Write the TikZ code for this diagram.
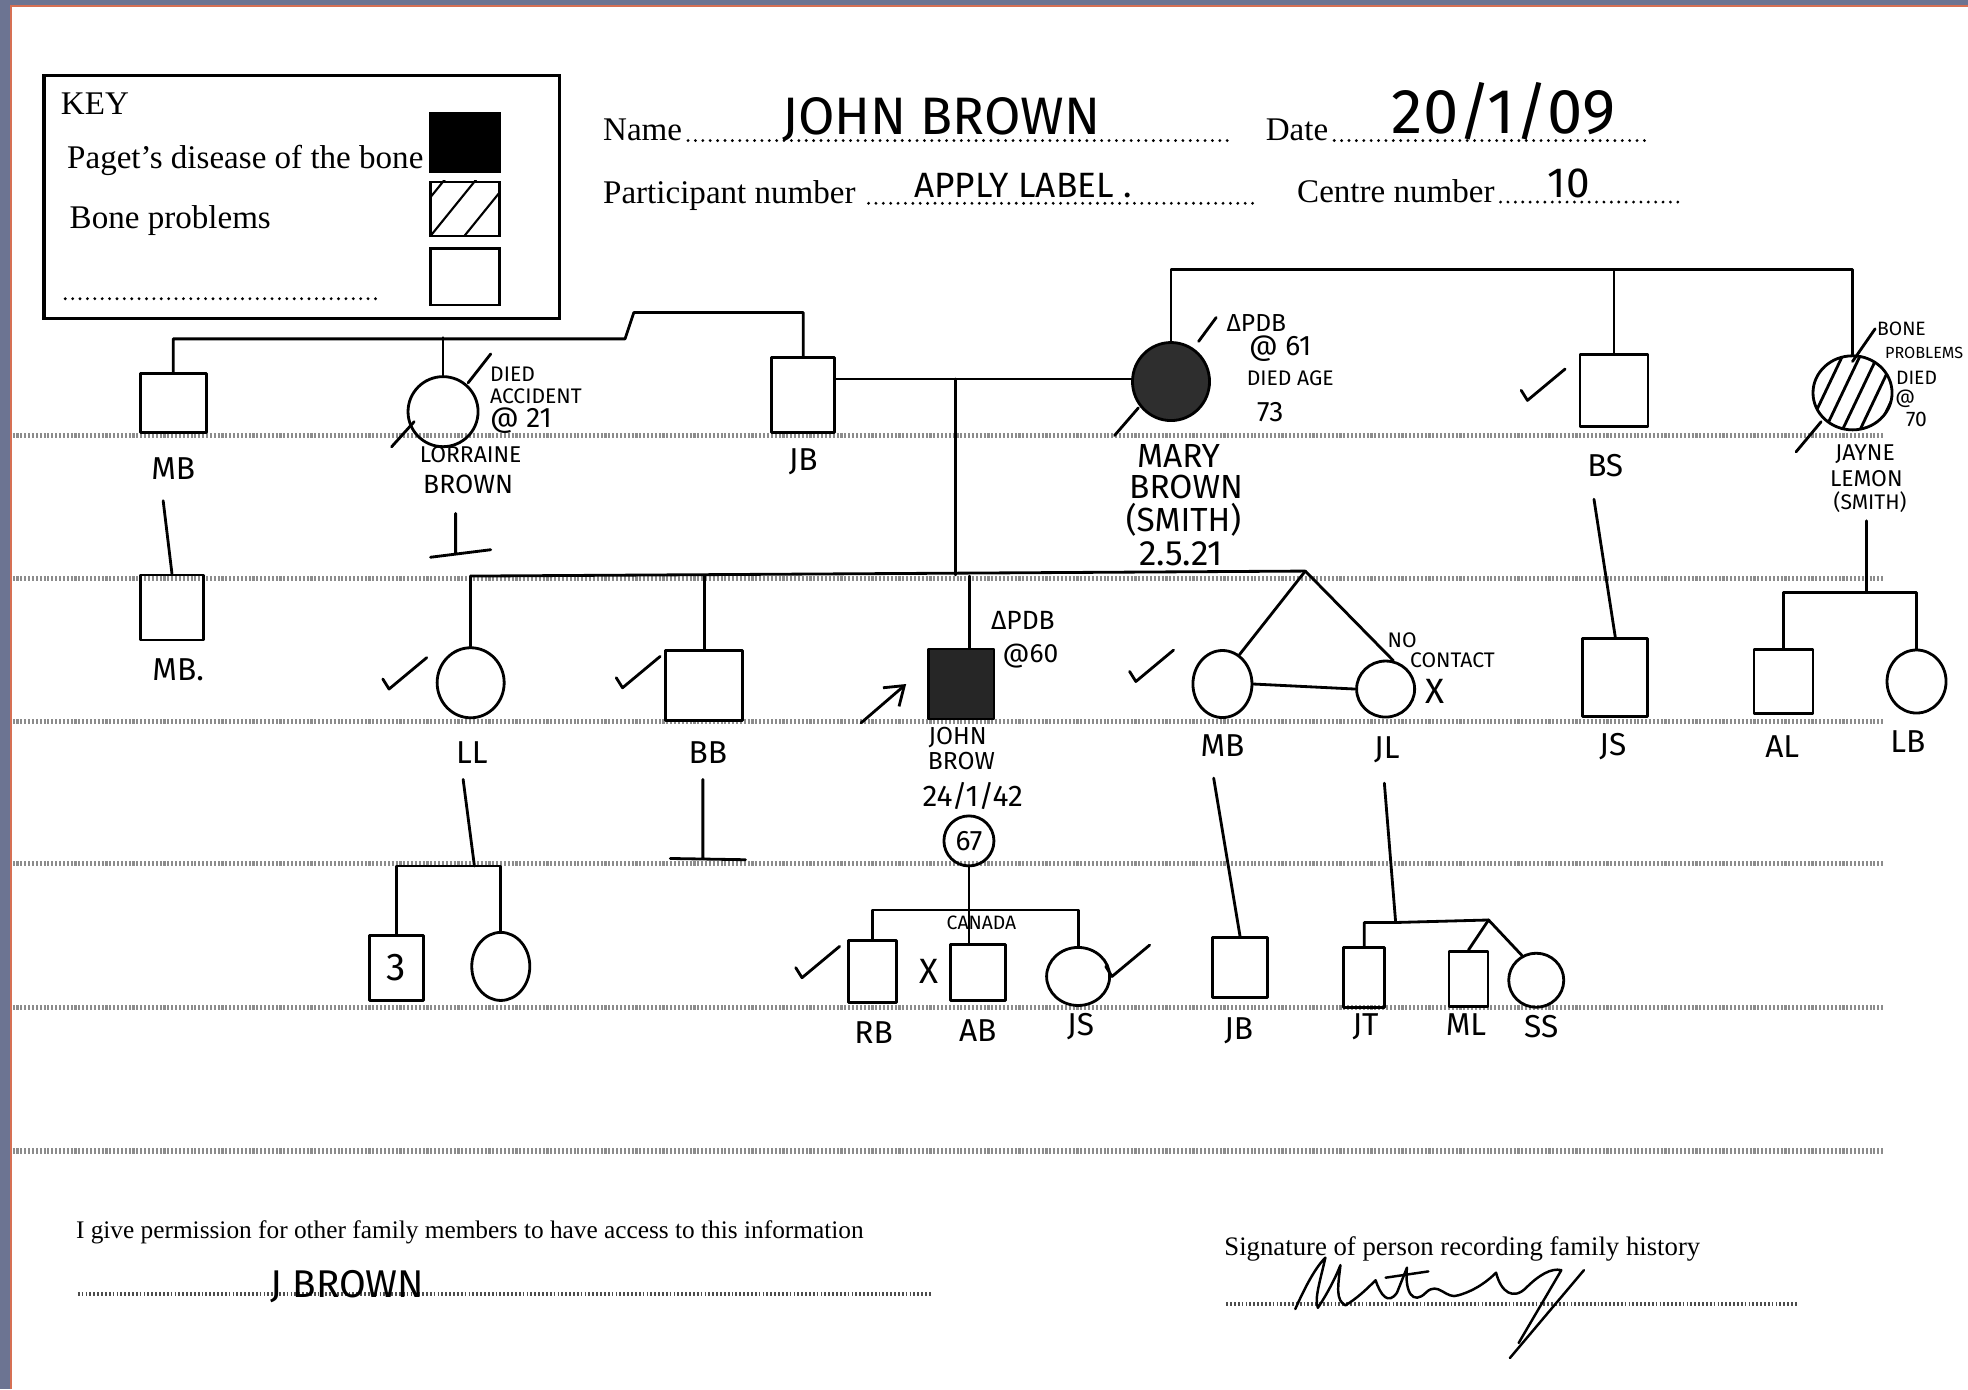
\documentclass[tikz,border=0pt]{standalone}
\usepackage{fontspec}
\setmainfont{Liberation Serif}
\newfontfamily\handfont{Fira Sans}
\usetikzlibrary{shapes.geometric, arrows.meta}

\definecolor{slate}{RGB}{108,116,146}
\definecolor{rim}{RGB}{214,112,84}

\tikzset{
	hand/.style={line width=0.8pt, line cap=round, line join=round},
	male/.style={draw, hand, rectangle, inner sep=0pt},
	female/.style={draw, hand, ellipse, inner sep=0pt},
	ruled/.style={line width=1.5pt, black!45, dash pattern=on 0.6pt off 0.5pt},
	dotline/.style={line width=1.1pt, black!70, dash pattern=on 0.5pt off 0.6pt},
	leader/.style={line width=0.9pt, line cap=round, dash pattern=on 0pt off 2.1pt},
	formtext/.style={font=\fontsize{9.4}{11}\selectfont, inner sep=0pt},
	tag/.style={font=\handfont\fontsize{9}{10}\selectfont, inner sep=0pt},
	note/.style={font=\handfont\fontsize{6}{7}\selectfont, inner sep=0pt},
	tiny/.style={font=\handfont\fontsize{4.6}{5}\selectfont, inner sep=0pt},
	tickmark/.pic={\draw[hand] (-5,-8) -- (0,0) -- (30,-25);},
}

\begin{document}
\begin{tikzpicture}[x=0.01255cm, y=-0.01255cm]
		\useasboundingbox (0,0) rectangle (1568,1107);
		\fill[slate] (0,0) rectangle (1568,1107);
		\fill[white] (9,5) rectangle (1568,1107);
		\draw[rim, line width=0.6pt] (9,1107) -- (9,5) -- (1568,5);
		\foreach \y in {347,461,575,688,803,917}
			\draw[ruled] (10,\y) -- (1500,\y);  % ruled lines

		% key
		\draw[line width=0.9pt] (35,60) rectangle (446,254);
		\node[formtext, anchor=west] (keytitle) at (48,83) {KEY};
		\node[formtext, anchor=west] (keypdbtext) at (53,128) {Paget’s disease of the bone};
		\node[formtext, anchor=west] (keybonetext) at (55,176) {Bone problems};
		\draw[leader] (52,238) -- (305,238);
		\node[draw, fill=black, line width=0.8pt, minimum width=0.69cm, minimum height=0.59cm] (keypdb) at (370.5,113.5) {};
		\node[draw, line width=0.8pt, minimum width=0.69cm, minimum height=0.54cm] (keybone) at (370.5,166.5) {};
		\node[draw, line width=0.8pt, minimum width=0.69cm, minimum height=0.565cm] (keyempty) at (370.5,220.5) {};
		\begin{scope}
			\clip (keybone.south west) rectangle (keybone.north east);
			\foreach \o in {-25,0,27}
				\draw[line width=0.6pt] (343+\o,188) -- ++(68,-84);
		\end{scope}

		% form fields
		\node[formtext, anchor=base west] (namefield) at (480,112) {Name};
		\draw[leader] ([xshift=1.5pt]namefield.base east) -- (980,112);
		\node[formtext, anchor=base west] (datefield) at (1008,112) {Date};
		\draw[leader] ([xshift=1.5pt]datefield.base east) -- (1313,112);
		\node[formtext, anchor=base west] (partfield) at (480,162) {Participant number};
		\draw[leader] (692,162) -- (1000,162);
		\node[formtext, anchor=base west] (centrefield) at (1033,161) {Centre number};
		\draw[leader] ([xshift=1.5pt]centrefield.base east) -- (1340,161);
		\node[tag, font=\handfont\fontsize{15}{16}\selectfont, anchor=base] (namehand) at (750,107) {JOHN BROWN};
		\node[tag, font=\handfont\fontsize{18}{19}\selectfont, anchor=base] (datehand) at (1198,106) {20/1/09};
		\node[tag, font=\handfont\fontsize{10}{11}\selectfont, anchor=base] (parthand) at (815,157) {APPLY LABEL .};
		\node[tag, font=\handfont\fontsize{12}{13}\selectfont, anchor=base] (centrehand) at (1250,157) {10};

		% generation I
		\node[male, minimum width=0.66cm, minimum height=0.59cm] (mbA) at (138,321) {};
		\node[female, minimum width=0.70cm, minimum height=0.70cm] (lorraine) at (353,328) {};
		\node[male, minimum width=0.63cm, minimum height=0.75cm] (jbA) at (640,315) {};
		\node[female, fill=black!82, minimum width=0.77cm, minimum height=0.78cm] (mary) at (933,304) {};
		\node[male, minimum width=0.68cm, minimum height=0.72cm] (bsA) at (1286,311) {};
		\node[female, minimum width=0.79cm, minimum height=0.74cm] (jayne) at (1476,313) {};
		\begin{scope}
			\clip (jayne.center) ellipse [x radius=0.39cm, y radius=0.36cm];
			\foreach \o in {-36,-22,...,36}
				\draw[hand] (1456+\o,355) -- ++(40,-84);
		\end{scope}

		\draw[hand] (jbA.north) |- (505,249) -- (498,270) -| (mbA.north);  % sibship MB, LB, JB
		\draw[hand] (lorraine.north) -- ++(0,-30);
		\coordinate (sibM) at (1276,215);
		\draw[hand] (mary.north) |- (sibM) -| (jayne.north);  % sibship MB, BS, JL
		\draw[hand] (bsA.north) -- (bsA.north |- sibM);
		\coordinate (wed) at (761,302);
		\draw[hand] (jbA.east |- wed) -- (mary.west |- wed);  % JB x MB

		\node[tag] (mbAname) at (138,373) {MB};
		\node[tag] (jbAname) at (640,368) {JB};
		\node[tag] (bsAname) at (1279,371) {BS};
		\node[note, font=\handfont\fontsize{6.5}{7}\selectfont] (lorrname) at (375,362) {LORRAINE};
		\node[note, font=\handfont\fontsize{7.5}{8}\selectfont] (lorrsur) at (373,386) {BROWN};
		\node[note, anchor=west] (lorrdied) at (390,298) {DIED};
		\node[note, anchor=west] (lorracc) at (390,316) {ACCIDENT};
		\node[note, font=\handfont\fontsize{8}{9}\selectfont, anchor=west] (lorrage) at (390,335) {@ 21};
		\draw[hand] (312,356) -- (330,336) (373,305) -- (391,282);
		\draw[hand] (363,409) -- (363,441) (343,444) -- (391,438);  % no issue
		\node[tag, font=\handfont\fontsize{9.5}{10}\selectfont] (maryname) at (939,363) {MARY};
		\node[tag, font=\handfont\fontsize{9.5}{10}\selectfont] (marysur) at (945,388) {BROWN};
		\node[tag, font=\handfont\fontsize{9.5}{10}\selectfont] (marymaid) at (943,414) {(SMITH)};
		\node[tag, font=\handfont\fontsize{10}{11}\selectfont] (maryborn) at (941,441) {2.5.21};
		\node[note, font=\handfont\fontsize{7}{8}\selectfont] (marypdb) at (1001,257) {ΔPDB};
		\node[note, font=\handfont\fontsize{8}{9}\selectfont] (maryonset) at (1020,278) {@ 61};
		\node[note] (marydied) at (1028,301) {DIED AGE};
		\node[note, font=\handfont\fontsize{8}{9}\selectfont] (maryage) at (1012,328) {73};
		\draw[hand] (888,347) -- (907,325) (955,272) -- (969,253);
		\node[note, font=\handfont\fontsize{6.5}{7}\selectfont] (jaynename) at (1486,362) {JAYNE};
		\node[note, font=\handfont\fontsize{6.5}{7}\selectfont] (jaynesur) at (1487,381) {LEMON};
		\node[note, font=\handfont\fontsize{6}{7}\selectfont] (jaynemaid) at (1490,400) {(SMITH)};
		\node[tiny, font=\handfont\fontsize{5.5}{6}\selectfont] (jaynebone) at (1515,262) {BONE};
		\node[tiny] (jayneprob) at (1533,281) {PROBLEMS};
		\node[tiny, font=\handfont\fontsize{5.5}{6}\selectfont] (jaynedied) at (1527,301) {DIED};
		\node[tiny, font=\handfont\fontsize{5.5}{6}\selectfont] (jayneat) at (1518,318) {@};
		\node[tiny, font=\handfont\fontsize{6}{7}\selectfont] (jayneage) at (1527,334) {70};
		\draw[hand] (1431,360) -- (1451,336) (1476,288) -- (1494,262);
		\pic at (1217,319) {tickmark};

		% generation II
		\node[male, minimum width=0.63cm, minimum height=0.65cm] (mbB) at (137,484) {};
		\node[female, minimum width=0.67cm, minimum height=0.70cm] (ll) at (375,544) {};
		\node[male, minimum width=0.77cm, minimum height=0.70cm] (bb) at (561,546) {};
		\node[male, fill=black!85, minimum width=0.65cm, minimum height=0.70cm] (john) at (766,545) {};
		\node[female, minimum width=0.59cm, minimum height=0.67cm] (mbC) at (974,545) {};
		\node[female, minimum width=0.58cm, minimum height=0.56cm] (jl) at (1104,549) {};
		\node[male, minimum width=0.65cm, minimum height=0.78cm] (js) at (1287,540) {};
		\node[male, minimum width=0.59cm, minimum height=0.64cm] (al) at (1421,543) {};
		\node[female, minimum width=0.59cm, minimum height=0.63cm] (lb) at (1527,543) {};

		\draw[hand] (mbB.north) -- ++(-7,-58);
		\coordinate (sibB) at (761,458);
		\coordinate (sibBl) at (375,459);
		\coordinate (sibBr) at (1040,455);
		\draw[hand] (wed) -- (sibB);
		\draw[hand] (sibBl) -- (sibBr);  % sibship of JB x MB
		\draw[hand] (ll.north) -- (sibBl);
		\draw[hand] (bb.north) -- (bb.north |- sibBl);
		\draw[hand] ([xshift=0.08cm]john.north) -- ([xshift=0.08cm]john.north |- sibBl);
		\draw[hand] (sibBr) -- (mbC.60);
		\draw[hand] (sibBr) -- (jl.75);
		\draw[hand] (mbC.east) -- (jl.west);  % twins
		\draw[hand] (js.north) -- ++(-17,-110);
		\coordinate (sibJ) at (1487,472);
		\draw[hand] (sibJ) -- ++(0,-57);
		\draw[hand] (al.north) |- (sibJ) -| (lb.north);

		\node[tag] (mbBname) at (142,534) {MB.};
		\node[tag] (llname) at (376,600) {LL};
		\node[tag] (bbname) at (564,600) {BB};
		\node[note, font=\handfont\fontsize{7}{8}\selectfont] (johnname) at (763,588) {JOHN};
		\node[note, font=\handfont\fontsize{7}{8}\selectfont] (johnsur) at (766,606) {BROW};
		\node[tag, font=\handfont\fontsize{8.5}{9}\selectfont] (johnborn) at (775,634) {24/1/42};
		\node[note, font=\handfont\fontsize{7.5}{8}\selectfont] (johnpdb) at (815,494) {ΔPDB};
		\node[note, font=\handfont\fontsize{7.5}{8}\selectfont] (johnonset) at (821,523) {@60};
		\node[tag] (mbCname) at (974,594) {MB};
		\node[tag] (jlname) at (1105,597) {JL};
		\node[note, anchor=west] (jlno) at (1105,510) {NO};
		\node[note, anchor=west] (jlcontact) at (1123,526) {CONTACT};
		\node[tag, font=\handfont\fontsize{10}{11}\selectfont] (jlx) at (1143,551) {X};
		\node[tag] (jsname) at (1285,595) {JS};
		\node[tag] (alname) at (1420,595) {AL};
		\node[tag] (lbname) at (1520,591) {LB};
		\draw[-{Straight Barb[length=5pt, width=7pt]}, hand] (686,576) -- (722,545);  % proband
		\draw[hand] (560,621) -- (560,684) (534,684) -- (594,685);  % no issue
		\pic at (310,549) {tickmark};
		\pic at (496,548) {tickmark};
		\pic at (905,543) {tickmark};

		% generation III
		\node[draw, circle, hand, minimum size=0.5cm, inner sep=0pt, font=\handfont\fontsize{8}{9}\selectfont] (age) at (772,670) {67};
		\node[male, minimum width=0.54cm, minimum height=0.65cm, font=\handfont\fontsize{11}{12}\selectfont] (three) at (316,771) {3};
		\node[female, minimum width=0.58cm, minimum height=0.68cm] (llgirl) at (399,770) {};
		\node[male, minimum width=0.48cm, minimum height=0.62cm] (rb) at (695,774) {};
		\node[male, minimum width=0.55cm, minimum height=0.56cm] (ab) at (779,775) {};
		\node[female, minimum width=0.63cm, minimum height=0.58cm] (jsC) at (859,778) {};
		\node[male, minimum width=0.55cm, minimum height=0.60cm] (jbC) at (988,771) {};
		\node[male, minimum width=0.41cm, minimum height=0.60cm] (jt) at (1087,779) {};
		\node[male, minimum width=0.39cm, minimum height=0.55cm] (ml) at (1170,780) {};
		\node[female, minimum width=0.55cm, minimum height=0.54cm] (ss) at (1224,781) {};

		\coordinate (sibL) at (378,690);
		\draw[hand] (sibL) -- ++(-9,-69);
		\draw[hand] (three.north) |- (sibL) -| (llgirl.north);
		\coordinate (sibJB) at (772,725);
		\draw[hand] (age.south) -- (age.south |- ab.north);
		\draw[hand] (rb.north) |- (sibJB) -| (jsC.north);
		\draw[hand] (jbC.north) -- ++(-21,-126);
		\coordinate (sibT) at (1112,735);
		\coordinate (twinT) at (1186,733);
		\draw[hand] (sibT) -- ++(-9,-111);
		\draw[hand] (jt.north) |- (sibT) -- (twinT);
		\draw[hand] (ml.north) -- (twinT) -- (ss.120);

		\node[note, font=\handfont\fontsize{5.5}{6}\selectfont] (canada) at (782,735) {CANADA};
		\node[tag, font=\handfont\fontsize{10}{11}\selectfont] (rbx) at (740,774) {X};
		\node[tag] (rbname) at (696,823) {RB};
		\node[tag] (abname) at (779,821) {AB};
		\node[tag] (jsCname) at (861,818) {JS};
		\node[tag] (jbCname) at (987,821) {JB};
		\node[tag] (jtname) at (1088,818) {JT};
		\node[tag] (mlname) at (1168,816) {ML};
		\node[tag] (ssname) at (1228,818) {SS};
		\pic at (639,779) {tickmark};
		\pic at (886,778) {tickmark};

		% signatures
		\node[formtext, font=\fontsize{7.2}{8}\selectfont, anchor=west] (permission) at (60,982) {I give permission for other family members to have access to this information};
		\draw[dotline] (62,1031) -- (742,1031);
		\node[tag, font=\handfont\fontsize{11}{12}\selectfont, anchor=base west] (consent) at (215,1034) {J BROWN};
		\node[formtext, font=\fontsize{7.6}{8}\selectfont, anchor=west] (recorder) at (975,995) {Signature of person recording family history};
		\draw[dotline] (977,1039) -- (1433,1039);
		\draw[hand, line width=0.7pt] (1032,1043) .. controls (1040,1025) and (1048,1010) .. (1056,1002)
			.. controls (1052,1020) and (1047,1035) .. (1050,1042) .. controls (1058,1030) and (1064,1018) .. (1068,1008)
			.. controls (1066,1025) and (1064,1036) .. (1072,1040) .. controls (1082,1034) and (1090,1026) .. (1096,1020)
			.. controls (1100,1032) and (1106,1040) .. (1113,1030) -- (1121,1010)
			.. controls (1119,1030) and (1126,1040) .. (1136,1030) .. controls (1146,1020) and (1152,1036) .. (1162,1032)
			.. controls (1176,1028) and (1186,1020) .. (1192,1014) .. controls (1196,1030) and (1206,1036) .. (1216,1026)
			.. controls (1226,1016) and (1236,1010) .. (1244,1012) -- (1210,1070);
		\draw[hand, line width=0.7pt] (1104,1018) -- (1138,1013) (1262,1012) -- (1203,1082);
	\end{tikzpicture}
\end{document}
